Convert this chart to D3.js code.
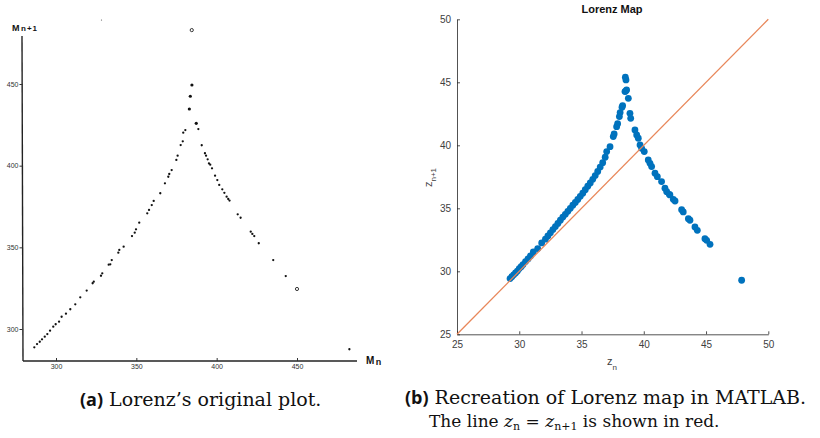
<!doctype html>
<html>
<head>
<meta charset="utf-8">
<title>Lorenz map</title>
<script src="https://d3js.org/d3.v7.min.js"></script>
<style>
body{margin:0;background:#fff;}
svg{display:block;}
</style>
</head>
<body>
<script>
// ---- data: left panel (Lorenz's original plot, successive maxima M_n, M_n+1)
var leftPts = [
  [384.6,449.4],[383.6,442.5],[383.0,434.7],[387.3,425.9],[388.6,422.4],
  [380.5,421.8],[379.2,420.2],[378.9,414.9],[377.6,412.6],[390.7,412.5],
  [375.7,406.1],[374.9,403.5],[392.7,407.6],[393.4,406.1],[394.4,403.9],
  [395.2,401.4],[396.0,400.6],[397.1,398.4],[399.0,393.9],[400.4,391.2],
  [401.6,388.2],[403.5,385.5],[404.8,383.4],[406.2,381.0],[407.2,379.6],
  [408.0,378.6],[372.0,397.3],[370.5,394.9],[369.9,393.2],[367.8,389.2],
  [364.9,383.1],[360.8,378.4],[359.6,375.9],[357.9,372.9],[356.8,370.8],
  [351.8,365.1],[349.8,361.0],[349.0,359.0],[347.3,356.9],[342.1,350.4],
  [339.4,348.4],[338.8,346.7],[334.7,342.2],[333.8,339.6],[332.8,339.4],
  [328.8,334.1],[328.0,332.6],[323.5,329.0],[322.8,328.0],[319.1,323.5],
  [315.1,319.4],[312.0,315.1],[308.9,312.1],[306.2,309.4],[303.5,307.5],
  [301.9,304.5],[299.8,302.9],[298.3,301.4],[296.3,299.0],[294.6,296.9],
  [293.0,295.3],[291.3,293.7],[289.9,292.2],[288.2,290.8],[286.5,288.8],
  [413.1,370.2],[414.9,368.1],[421.2,359.6],[422.2,358.2],[423.4,356.9],
  [426.2,352.5],[435.2,342.2],[443.0,332.4],[482.6,287.6]
];
var leftOpen = [[384.5,483.0],[450.0,324.5]];
var leftTicks = [300,350,400,450];

// ---- data: right panel (MATLAB recreation, z_n vs z_n+1)
var zn = [
  29.26,29.40,29.55,29.70,29.85,30.00,30.15,30.30,30.50,30.70,
  30.90,31.13,31.48,31.80,32.10,32.30,32.50,32.70,32.90,33.10,
  33.30,33.50,33.70,33.90,34.10,34.30,34.50,34.70,34.90,35.10,
  35.30,35.50,35.70,35.90,36.10,36.30,36.50,36.70,36.90,37.02,
  37.29,37.55,37.62,37.82,37.90,38.04,38.10,38.25,38.30,38.49,
  38.55,38.52,38.57,38.62,
  38.76,38.89,38.95,39.29,39.43,39.56,39.70,39.83,40.04,40.36,
  40.50,40.63,40.90,41.09,41.43,41.70,41.84,42.05,42.10,42.37,
  42.51,43.04,43.17,43.58,43.71,44.11,44.30,44.91,45.05,45.32,
  47.86
];
var zn1 = [
  29.42,29.57,29.72,29.87,30.02,30.22,30.37,30.53,30.77,30.98,
  31.22,31.53,31.80,32.25,32.55,32.80,33.05,33.31,33.55,33.80,
  34.05,34.30,34.52,34.76,35.00,35.25,35.47,35.70,35.95,36.20,
  36.48,36.75,37.01,37.30,37.60,37.92,38.27,38.62,39.05,39.50,
  39.89,40.69,40.90,41.48,41.72,42.28,42.60,43.02,43.15,44.26,
  44.30,45.40,45.19,44.39,
  43.73,42.54,42.14,41.22,40.82,40.56,40.03,39.76,39.50,38.84,
  38.57,38.31,37.78,37.51,37.12,36.59,36.32,36.11,36.06,35.71,
  35.58,34.89,34.71,34.18,34.05,33.52,33.25,32.59,32.46,32.14,
  29.29
];
var rightTicks = [25,30,35,40,45,50];

var W = 820, H = 438;
var svg = d3.select("body").append("svg").attr("width",W).attr("height",H);
svg.append("rect").attr("width",W).attr("height",H).attr("fill","#fff");

// ================= left panel =================
var xL = d3.scaleLinear().domain([300,450]).range([56,297]);
var yL = d3.scaleLinear().domain([300,450]).range([329,84]);
var gL = svg.append("g").attr("font-family","Liberation Sans, Arial, sans-serif");

// axis lines (scanned look)
gL.append("line").attr("x1",22).attr("x2",23).attr("y1",36).attr("y2",361)
  .attr("stroke","#222").attr("stroke-width",1.4);
gL.append("line").attr("x1",23).attr("x2",357).attr("y1",361).attr("y2",361)
  .attr("stroke","#222").attr("stroke-width",1.3);

var ayL = gL.append("g").attr("transform","translate(22.5,0)")
  .call(d3.axisLeft(yL).tickValues(leftTicks).tickSize(3).tickPadding(1));
ayL.select(".domain").remove();
ayL.selectAll("line").attr("stroke","#333");
ayL.selectAll("text").attr("font-size",7).attr("fill","#333");

var axL = gL.append("g").attr("transform","translate(0,361)")
  .call(d3.axisBottom(xL).tickValues(leftTicks).tickSizeInner(-3).tickSizeOuter(0).tickPadding(3));
axL.select(".domain").remove();
axL.selectAll("line").attr("stroke","#333");
axL.selectAll("text").attr("font-size",7).attr("fill","#333");

gL.selectAll("circle.pt").data(leftPts).enter().append("circle")
  .attr("class","pt")
  .attr("cx",function(d){return xL(d[0]);})
  .attr("cy",function(d){return yL(d[1]);})
  .attr("r",function(d){return d[1]>425 ? 1.6 : 1.15;})
  .attr("fill","#111");
gL.selectAll("circle.op").data(leftOpen).enter().append("circle")
  .attr("class","op")
  .attr("cx",function(d){return xL(d[0]);})
  .attr("cy",function(d){return yL(d[1]);})
  .attr("r",1.6)
  .attr("fill","#fff").attr("stroke","#222").attr("stroke-width",0.9);

// speck from the scan
gL.append("circle").attr("cx",101.5).attr("cy",20).attr("r",0.6).attr("fill","#555");

var lbl1 = gL.append("text").attr("x",12).attr("y",31).attr("fill","#111").attr("font-weight","bold");
lbl1.append("tspan").attr("font-size",9).text("M");
lbl1.append("tspan").attr("font-size",8).attr("dx",1.5).attr("letter-spacing",1).text("n+1");
var lbl2 = gL.append("text").attr("x",366).attr("y",364).attr("fill","#111").attr("font-weight","bold");
lbl2.append("tspan").attr("font-size",10).text("M");
lbl2.append("tspan").attr("font-size",9).attr("dx",1.5).attr("dy",1).text("n");

// ================= right panel =================
var xR = d3.scaleLinear().domain([25,50]).range([457,768.3]);
var yR = d3.scaleLinear().domain([25,50]).range([334.3,19.3]);
var gR = svg.append("g").attr("font-family","Liberation Sans, Arial, sans-serif");

var axR = gR.append("g").attr("transform","translate(0,334.3)")
  .call(d3.axisBottom(xR).tickValues(rightTicks).tickSizeInner(-3).tickSizeOuter(0).tickPadding(7));
var ayR = gR.append("g").attr("transform","translate(457,0)")
  .call(d3.axisLeft(yR).tickValues(rightTicks).tickSizeInner(-3).tickSizeOuter(0).tickPadding(6));
[axR,ayR].forEach(function(a){
  a.select(".domain").attr("stroke","#262626").attr("stroke-width",0.8);
  a.selectAll("line").attr("stroke","#262626").attr("stroke-width",0.8);
  a.selectAll("text").attr("font-size",10).attr("fill","#404040");
});

gR.selectAll("circle").data(zn).enter().append("circle")
  .attr("cx",function(d){return xR(d);})
  .attr("cy",function(d,i){return yR(zn1[i]);})
  .attr("r",3.4)
  .attr("fill","#0072BD");

// identity line z_n = z_n+1 (plotted after the scatter, as in MATLAB)
gR.append("line")
  .attr("x1",xR(25)).attr("y1",yR(25)).attr("x2",xR(50)).attr("y2",yR(50))
  .attr("stroke","#E8875A").attr("stroke-width",1.3);

gR.append("text").attr("x",612).attr("y",13).attr("text-anchor","middle")
  .attr("font-size",11).attr("font-weight","bold").attr("fill","#111").text("Lorenz Map");

var xl = gR.append("text").attr("x",607).attr("y",365).attr("fill","#404040").attr("font-size",11);
xl.append("tspan").text("z");
xl.append("tspan").attr("font-size",8).attr("dy",5).text("n");

var yl = gR.append("text").attr("transform","translate(432,187) rotate(-90)").attr("fill","#404040").attr("font-size",11);
yl.append("tspan").text("z");
yl.append("tspan").attr("font-size",8).attr("dy",4).text("n+1");

// ================= captions =================
var serif = "'DejaVu Serif', 'Liberation Serif', serif";
var capA = svg.append("text").attr("x",80).attr("y",406).attr("font-size",19).attr("fill","#111");
capA.append("tspan").attr("font-family","'Open Sans', 'Noto Sans', sans-serif").attr("font-weight","bold").attr("font-size",18).text("(a)");
capA.append("tspan").attr("font-family",serif).attr("dx",6).text("Lorenz\u2019s original plot.");

var capB = svg.append("text").attr("x",405).attr("y",404).attr("font-size",19).attr("fill","#111");
capB.append("tspan").attr("font-family","'Open Sans', 'Noto Sans', sans-serif").attr("font-weight","bold").attr("font-size",18).text("(b)");
capB.append("tspan").attr("font-family",serif).attr("dx",6).text("Recreation of Lorenz map in MATLAB.");

var capB2 = svg.append("text").attr("x",429).attr("y",427).attr("font-size",17).attr("fill","#111").attr("font-family",serif);
capB2.append("tspan").text("The line ");
capB2.append("tspan").attr("font-style","italic").text("z");
capB2.append("tspan").attr("font-size",11).attr("dy",3).text("n");
capB2.append("tspan").attr("dy",-3).text(" = ");
capB2.append("tspan").attr("font-style","italic").text("z");
capB2.append("tspan").attr("font-size",11).attr("dy",3).text("n+1");
capB2.append("tspan").attr("dy",-3).text(" is shown in red.");
</script>
</body>
</html>
